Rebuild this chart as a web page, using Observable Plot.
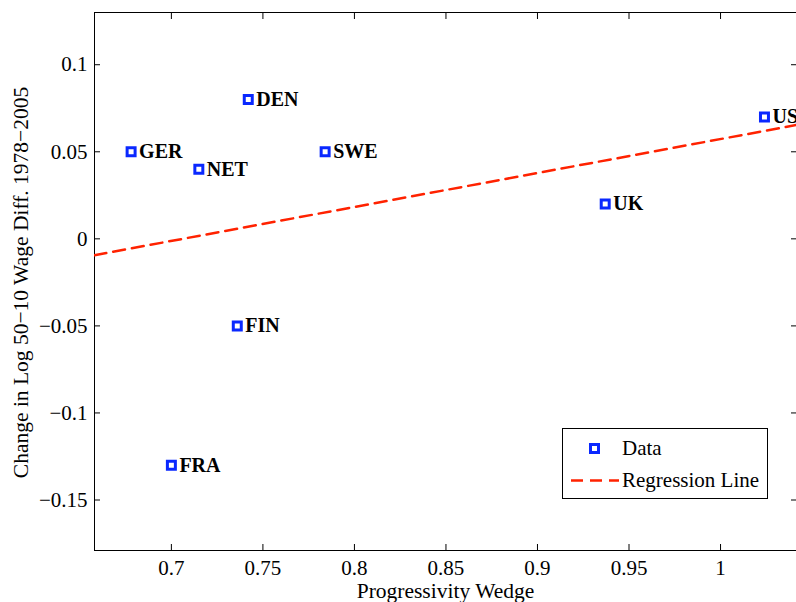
<!DOCTYPE html>
<html>
<head>
<meta charset="utf-8">
<script src="https://cdn.jsdelivr.net/npm/d3@7"></script>
<script src="https://cdn.jsdelivr.net/npm/@observablehq/plot@0.6"></script>
<style>
  html, body { margin: 0; padding: 0; background: #fff; }
  #wrap { position: relative; width: 796px; height: 602px; overflow: hidden; font-family: "Liberation Serif", "Times New Roman", serif; }
  #legend { position: absolute; left: 562px; top: 428px; width: 204px; height: 69px; border: 1px solid #000; background: #fff; }
  #legend svg { position: absolute; left: 0; top: 0; }
  #legend span { position: absolute; left: 59px; font-size: 21px; color: #000; line-height: 1; white-space: nowrap; }
</style>
</head>
<body>
<div id="wrap">
  <div id="chart"></div>
  <div id="legend">
    <svg width="204" height="69">
      <rect x="27.5" y="15.5" width="8" height="8" fill="none" stroke="#0a28ff" stroke-width="3"></rect>
      <line x1="8" y1="51.5" x2="56" y2="51.5" stroke="#ff2200" stroke-width="2.5" stroke-dasharray="12,7"></line>
    </svg>
    <span style="top:9px">Data</span>
    <span style="top:41px">Regression Line</span>
  </div>
</div>
<script>
// Data
const countries = ["GER", "NET", "DEN", "FIN", "SWE", "UK", "US", "FRA"];
const wedge = [0.678, 0.715, 0.742, 0.736, 0.784, 0.937, 1.024, 0.700];
const wageChange = [0.05, 0.04, 0.08, -0.05, 0.05, 0.02, 0.07, -0.13];
const xTicks = [0.7, 0.75, 0.8, 0.85, 0.9, 0.95, 1];
const yTicks = [-0.15, -0.1, -0.05, 0, 0.05, 0.1];
const xDomain = [0.658, 1.0415];
const yDomain = [-0.179, 0.13];

const data = countries.map((c, i) => ({name: c, x: wedge[i], y: wageChange[i]}));

// least-squares regression
const mx = d3.mean(wedge), my = d3.mean(wageChange);
const slope = d3.sum(wedge, (x, i) => (x - mx) * (wageChange[i] - my)) / d3.sum(wedge, x => (x - mx) ** 2);
const intercept = my - slope * mx;
const regLine = xDomain.map(x => ({x, y: intercept + slope * x}));

const fmt = d => d < 0 ? "\u2212" + String(Math.abs(d)) : String(d);
const font = "'Liberation Serif', 'Times New Roman', serif";
const blue = "#0a28ff";
const red = "#ff2200";

const plot = Plot.plot({
  width: 796,
  height: 602,
  marginLeft: 94,
  marginRight: 0,
  marginTop: 12,
  marginBottom: 52,
  style: {fontFamily: font, fontSize: "21px", background: "white", color: "black"},
  x: {domain: xDomain},
  y: {domain: yDomain},
  marks: [
    Plot.axisX(xTicks, {anchor: "bottom", tickSize: -6, tickPadding: 16, tickFormat: fmt, label: null, fontSize: 21}),
    Plot.axisX(xTicks, {anchor: "top", tickSize: -6, tickFormat: () => "", label: null}),
    Plot.axisY(yTicks, {anchor: "left", tickSize: -6, tickPadding: 13, tickFormat: fmt, label: null, fontSize: 21}),
    Plot.axisY(yTicks, {anchor: "right", tickSize: -6, tickFormat: () => "", label: null}),
    Plot.frame({stroke: "black", strokeWidth: 1}),
    Plot.line(regLine, {x: "x", y: "y", stroke: red, strokeWidth: 2.5, strokeDasharray: "12,7", clip: true}),
    Plot.dot(data, {x: "x", y: "y", symbol: "square", r: 4.5, stroke: blue, strokeWidth: 3, fill: "none"}),
    Plot.text(data, {x: "x", y: "y", text: "name", dx: 8, textAnchor: "start", lineAnchor: "middle", fontWeight: "bold", fontSize: 20}),
    Plot.text(["Progressivity Wedge"], {frameAnchor: "bottom", textAnchor: "middle", dy: 41, lineAnchor: "middle", fontSize: 21.5}),
    Plot.text(["Change in Log 50\u221210 Wage Diff. 1978\u22122005"], {frameAnchor: "left", textAnchor: "middle", dx: -73, dy: 1, rotate: -90, lineAnchor: "middle", fontSize: 21.5})
  ]
});
document.getElementById("chart").appendChild(plot);
</script>
</body>
</html>
